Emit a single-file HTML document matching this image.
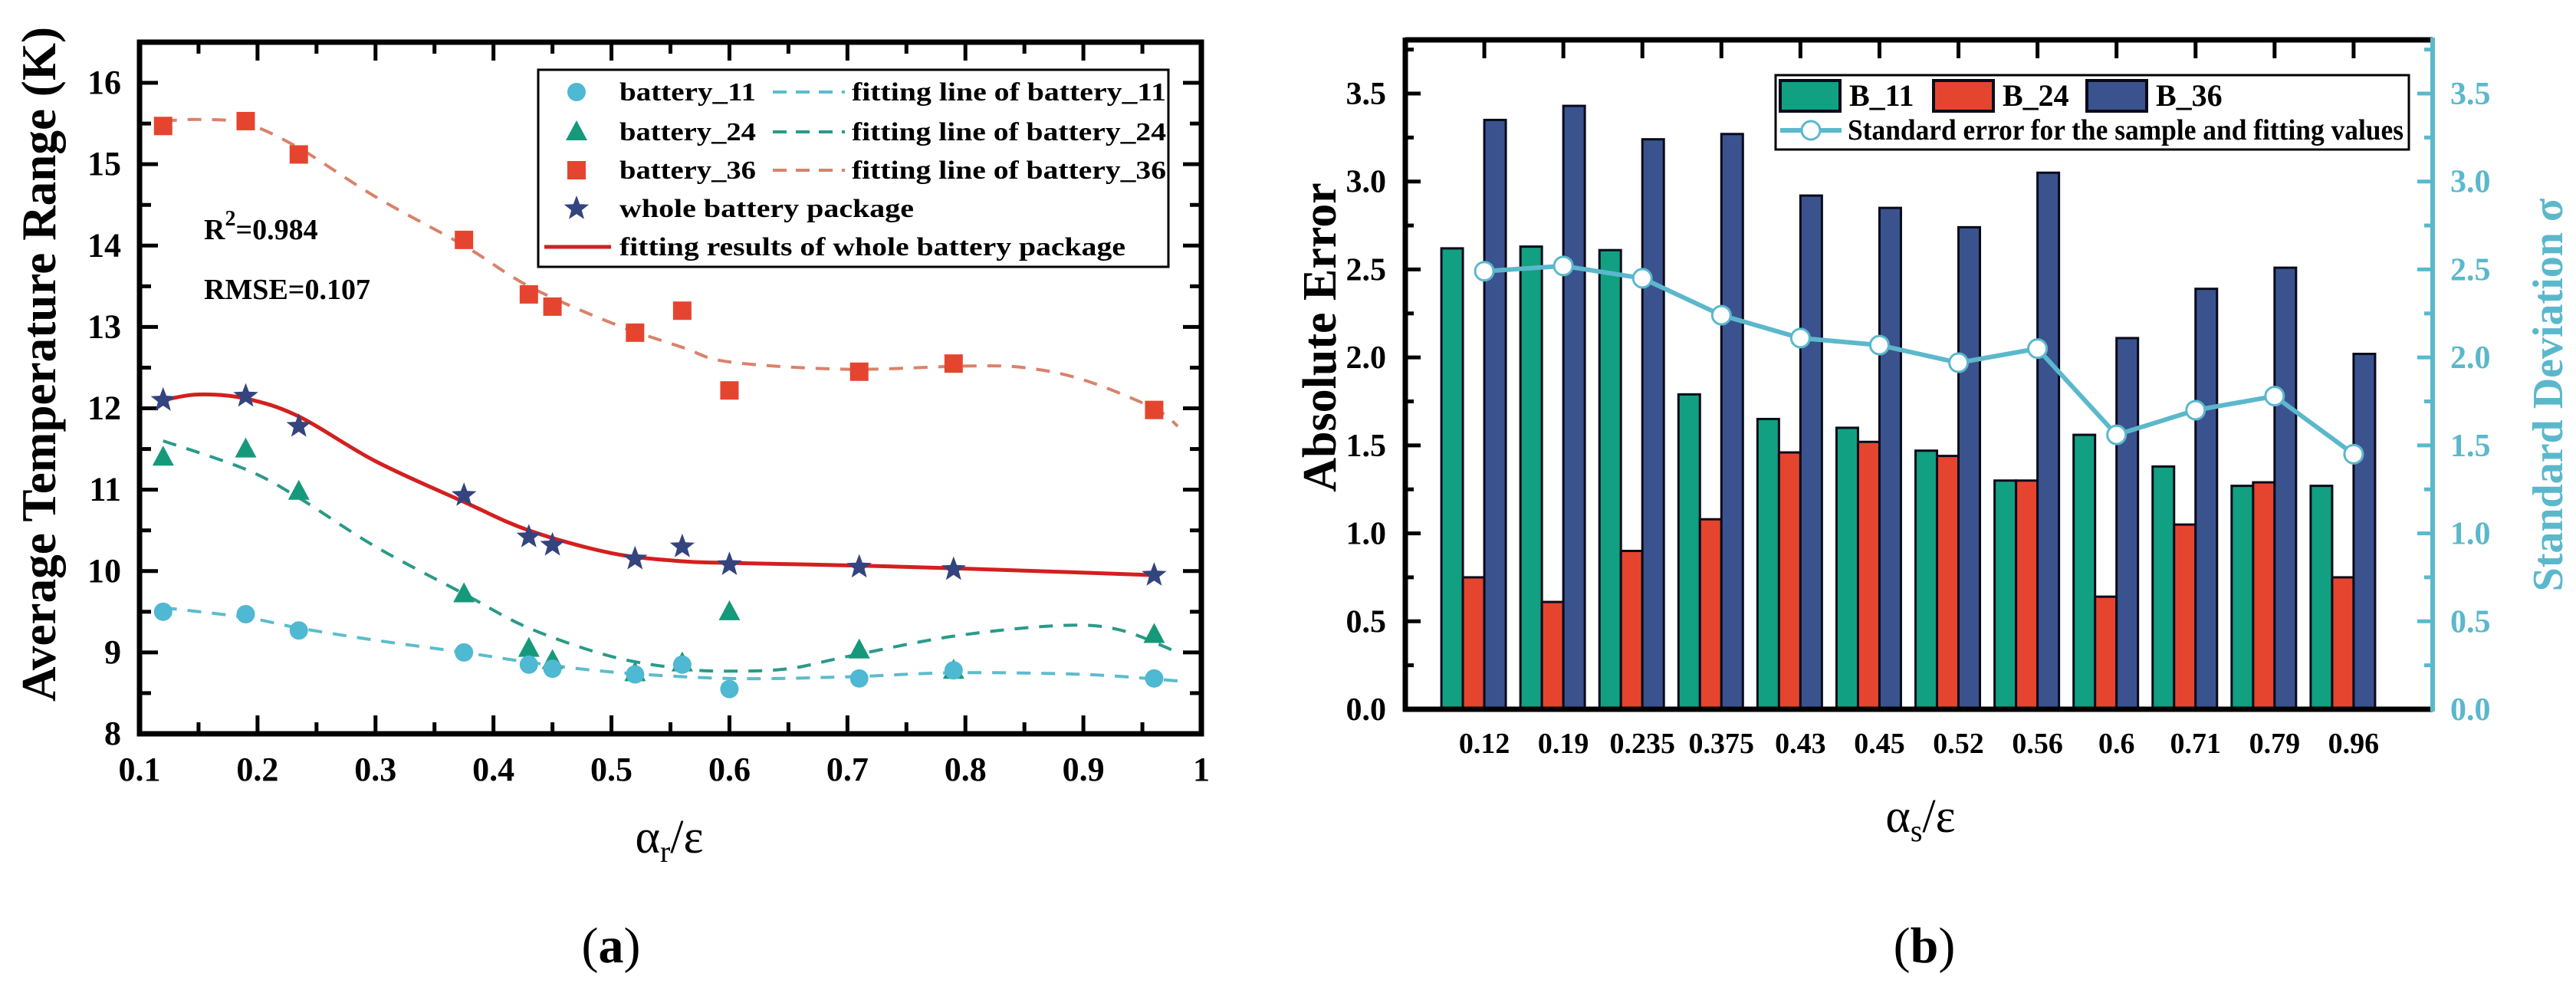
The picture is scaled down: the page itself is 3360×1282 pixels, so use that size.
<!DOCTYPE html>
<html><head><meta charset="utf-8"><style>
html,body{margin:0;padding:0;background:#fff;}
svg{display:block;font-family:"Liberation Serif",serif;}
</style></head><body>
<svg id="fig" width="3360" height="1282" viewBox="0 0 3360 1282" xmlns="http://www.w3.org/2000/svg">
<g id="pa"></g>
<g id="pb"></g>
</svg>
<script>
// ---------- Panel (a) data ----------
const xVals = [0.12,0.19,0.235,0.375,0.43,0.45,0.52,0.56,0.6,0.71,0.79,0.96];
const b11 = [9.5,9.47,9.27,9.0,8.85,8.8,8.73,8.85,8.55,8.68,8.78,8.68];
const b24 = [11.4,11.5,10.98,9.72,9.05,8.9,8.75,8.87,9.5,9.03,8.78,9.22];
const b36 = [15.47,15.53,15.12,14.07,13.4,13.25,12.93,13.2,12.22,12.45,12.55,11.98];
const whole = [12.1,12.15,11.78,10.93,10.42,10.32,10.15,10.3,10.08,10.05,10.02,9.95];
const fit11X = [0.12,0.19,0.235,0.3,0.375,0.43,0.5,0.6,0.7,0.79,0.9,0.98];
const fit11Y = [9.55,9.43,9.3,9.15,9.0,8.88,8.76,8.68,8.7,8.75,8.73,8.65];
const fit24X = [0.12,0.19,0.235,0.3,0.375,0.43,0.5,0.56,0.6,0.65,0.7,0.79,0.88,0.93,0.98];
const fit24Y = [11.6,11.25,10.9,10.3,9.72,9.3,8.95,8.8,8.77,8.8,8.95,9.2,9.33,9.28,9.0];
const fit36X = [0.12,0.15,0.19,0.235,0.3,0.375,0.43,0.5,0.56,0.6,0.7,0.8,0.85,0.9,0.96,0.98];
const fit36Y = [15.53,15.55,15.5,15.2,14.6,14.0,13.5,13.05,12.75,12.57,12.48,12.52,12.5,12.35,12.0,11.78];
const fitWX = [0.12,0.15,0.19,0.235,0.3,0.375,0.43,0.5,0.56,0.6,0.7,0.8,0.96];
const fitWY = [12.1,12.17,12.12,11.9,11.35,10.85,10.5,10.22,10.12,10.1,10.07,10.03,9.95];
const aXTicks = ["0.1","0.2","0.3","0.4","0.5","0.6","0.7","0.8","0.9","1"];
const aYTicks = ["8","9","10","11","12","13","14","15","16"];
// ---------- Panel (b) data ----------
const cats = ["0.12","0.19","0.235","0.375","0.43","0.45","0.52","0.56","0.6","0.71","0.79","0.96"];
const bar11 = [2.62,2.63,2.61,1.79,1.65,1.6,1.47,1.3,1.56,1.38,1.27,1.27];
const bar24 = [0.75,0.61,0.9,1.08,1.46,1.52,1.44,1.3,0.64,1.05,1.29,0.75];
const bar36 = [3.35,3.43,3.24,3.27,2.92,2.85,2.74,3.05,2.11,2.39,2.51,2.02];
const sigma = [2.49,2.52,2.45,2.24,2.11,2.07,1.97,2.05,1.56,1.7,1.78,1.45];
const bYTicks = ["0.0","0.5","1.0","1.5","2.0","2.5","3.0","3.5"];

const NS="http://www.w3.org/2000/svg";
function mk(parent,tag,attrs,text){const e=document.createElementNS(NS,tag);for(const k in attrs)e.setAttribute(k,attrs[k]);if(text!==undefined)e.textContent=text;parent.appendChild(e);return e;}
function smooth(pts){let d="M"+pts[0][0]+","+pts[0][1];for(let i=0;i<pts.length-1;i++){const p0=pts[i-1]||pts[i],p1=pts[i],p2=pts[i+1],p3=pts[i+2]||p2;const c1=[p1[0]+(p2[0]-p0[0])/6,p1[1]+(p2[1]-p0[1])/6],c2=[p2[0]-(p3[0]-p1[0])/6,p2[1]-(p3[1]-p1[1])/6];d+=" C"+c1+" "+c2+" "+p2;}return d;}
function star(cx,cy,R){const r=R*0.42;let s="";for(let i=0;i<10;i++){const a=-Math.PI/2+i*Math.PI/5,rr=i%2?r:R;s+=(cx+rr*Math.cos(a)).toFixed(1)+","+(cy+rr*Math.sin(a)).toFixed(1)+" ";}return s;}

// ===== Panel A =====
const A=document.getElementById('pa');
const aL=182,aR=1567,aT=55,aB=957;
const ax=v=>aL+(v-0.1)/0.9*(aR-aL);
const ay=v=>aB-(v-8)/8.5*(aB-aT);
let e;
for(let v=0.1;v<=1.0001;v+=0.05){const X=ax(v);const maj=Math.abs(Math.round(v*10)-v*10)<1e-6;const L=maj?24:15;
 e=mk(A,'line',{x1:X,y1:aB,x2:X,y2:aB-L,stroke:'#000','stroke-width':5});
 
 
 e=mk(A,'line',{x1:X,y1:aT,x2:X,y2:aT+L,stroke:'#000','stroke-width':5});
 
 }
aXTicks.forEach((t,i)=>{e=mk(A,'text',{x:ax(0.1+i*0.1),y:1018,'text-anchor':'middle','font-size':44,'font-weight':'bold'},t);
 
 });
for(let v=8;v<=16.5001;v+=0.5){const Y=ay(v);const maj=Math.abs(v-Math.round(v))<1e-6;const L=maj?24:15;
 e=mk(A,'line',{x1:aL,y1:Y,x2:aL+L,y2:Y,stroke:'#000','stroke-width':5});
 
 
 e=mk(A,'line',{x1:aR,y1:Y,x2:aR-L,y2:Y,stroke:'#000','stroke-width':5});
 
 }
aYTicks.forEach((t,i)=>{e=mk(A,'text',{x:158,y:ay(8+i)+14,'text-anchor':'end','font-size':44,'font-weight':'bold'},t);
 
 });
e=mk(A,'rect',{x:aL,y:aT,width:aR-aL,height:aB-aT,fill:'none',stroke:'#000','stroke-width':7});


function fitLine(X,Y,color,dash,w,name){const p=X.map((x,i)=>[ax(x),ay(Y[i])]);const el=mk(A,'path',{d:smooth(p),fill:'none',stroke:color,'stroke-width':w,'stroke-dasharray':dash});}
fitLine(fit36X,fit36Y,'#d9826a','18 14',4,'fit-line-battery-36');
fitLine(fit24X,fit24Y,'#2a9a88','18 14',4,'fit-line-battery-24');
fitLine(fit11X,fit11Y,'#5cbccc','18 14',4,'fit-line-battery-11');
xVals.forEach((x,i)=>{
 e=mk(A,'rect',{x:ax(x)-12,y:ay(b36[i])-12,width:24,height:24,fill:'#e5452f'});
 
 
 const cx=ax(x),cy=ay(b24[i]);
 e=mk(A,'polygon',{points:`${cx},${cy-15} ${cx-14},${cy+11} ${cx+14},${cy+11}`,fill:'#16997a'});
 
 
 e=mk(A,'circle',{cx:ax(x),cy:ay(b11[i]),r:12,fill:'#4fb8d2'});
 
 
});
fitLine(fitWX,fitWY,'#d41f1f','none',5,'fit-line-whole-package');
xVals.forEach((x,i)=>{e=mk(A,'polygon',{points:star(ax(x),ay(whole[i]),17),fill:'#34447e'});
 
 });
e=mk(A,'text',{x:266,y:312,'font-size':38,'font-weight':'bold'});
e.innerHTML='R<tspan dy="-18" font-size="28">2</tspan><tspan dy="18">=0.984</tspan>';


e=mk(A,'text',{x:266,y:390,'font-size':38,'font-weight':'bold'},'RMSE=0.107');


const lg=mk(A,'g',{});


e=mk(lg,'rect',{x:702,y:91,width:822,height:257,fill:'#fff',stroke:'#000','stroke-width':3});


const rows=[120,172,222,272,322];
const ltxt=['battery_11','battery_24','battery_36'];
const lfit=['fitting line of battery_11','fitting line of battery_24','fitting line of battery_36'];
const lcol=['#5cbccc','#2a9a88','#d9826a'];
e=mk(lg,'circle',{cx:752,cy:rows[0],r:12,fill:'#4fb8d2'});
e=mk(lg,'polygon',{points:`752,${rows[1]-15} 738,${rows[1]+11} 766,${rows[1]+11}`,fill:'#16997a'});
e=mk(lg,'rect',{x:740,y:rows[2]-12,width:24,height:24,fill:'#e5452f'});
e=mk(lg,'polygon',{points:star(752,rows[3],17),fill:'#34447e'});
e=mk(lg,'line',{x1:710,y1:rows[4],x2:797,y2:rows[4],stroke:'#d41f1f','stroke-width':5});
for(let i=0;i<3;i++){
 e=mk(lg,'text',{x:808,y:rows[i]+11,'font-size':34,'font-weight':'bold',textLength:178,lengthAdjust:'spacingAndGlyphs'},ltxt[i]);
 
 
 e=mk(lg,'line',{x1:1008,y1:rows[i],x2:1102,y2:rows[i],stroke:lcol[i],'stroke-width':4,'stroke-dasharray':'18 12'});
 
 
 e=mk(lg,'text',{x:1111,y:rows[i]+11,'font-size':34,'font-weight':'bold',textLength:410,lengthAdjust:'spacingAndGlyphs'},lfit[i]);
 
 
}
e=mk(lg,'text',{x:808,y:rows[3]+11,'font-size':34,'font-weight':'bold',textLength:384,lengthAdjust:'spacingAndGlyphs'},'whole battery package');

e=mk(lg,'text',{x:808,y:rows[4]+11,'font-size':34,'font-weight':'bold',textLength:660,lengthAdjust:'spacingAndGlyphs'},'fitting results of whole battery package');

e=mk(A,'text',{x:0,y:0,transform:'translate(72,475) rotate(-90)','text-anchor':'middle','font-size':64,'font-weight':'bold',textLength:880,lengthAdjust:'spacingAndGlyphs'},'Average Temperature Range (K)');

e=mk(A,'text',{x:873,y:1112,'text-anchor':'middle','font-size':62});
e.innerHTML='α<tspan dy="12" font-size="40">r</tspan><tspan dy="-12">/ε</tspan>';

e=mk(A,'text',{x:797,y:1255,'text-anchor':'middle','font-size':66});
e.innerHTML='(<tspan font-weight="bold">a</tspan>)';


// ===== Panel B =====
const B=document.getElementById('pb');
const bL=1833,bR=3173,bT=52,bB=925;
const step=(bR-bL)/13;
const bx=i=>bL+(i+1)*step;
const by=v=>bB-v/3.5*(bB-122);
const bw=28;
const series=[[bar11,'#11a081','bar-b11',-42],[bar24,'#e5452f','bar-b24',-14],[bar36,'#3a538f','bar-b36',14]];
cats.forEach((c,i)=>{series.forEach(s=>{const v=s[0][i];
 e=mk(B,'rect',{x:bx(i)+s[3]-bw/2,y:by(v),width:bw,height:bB-by(v),fill:s[1],stroke:'#0a0a1a','stroke-width':3});
 
 });});
for(let v=0;v<=3.75001;v+=0.25){const Y=by(v);const maj=Math.abs(v*2-Math.round(v*2))<1e-6;const L=maj?20:11;
 e=mk(B,'line',{x1:bL,y1:Y,x2:bL+L,y2:Y,stroke:'#000','stroke-width':5});
 
 e=mk(B,'line',{x1:bR,y1:Y,x2:bR-L,y2:Y,stroke:'#5bb8cc','stroke-width':5});
 }
bYTicks.forEach((t,i)=>{const Y=by(i*0.5);
 e=mk(B,'text',{x:1808,y:Y+14,'text-anchor':'end','font-size':42,'font-weight':'bold'},t);
 
 e=mk(B,'text',{x:3196,y:Y+14,'font-size':42,'font-weight':'bold',fill:'#5bb8cc'},t);
 });
cats.forEach((c,i)=>{
 e=mk(B,'line',{x1:bx(i),y1:bT,x2:bx(i),y2:bT+24,stroke:'#000','stroke-width':5});
 
 e=mk(B,'text',{x:bx(i),y:982,'text-anchor':'middle','font-size':38,'font-weight':'bold'},c);
 });
e=mk(B,'line',{x1:bL,y1:bT,x2:bR,y2:bT,stroke:'#000','stroke-width':7});
e=mk(B,'line',{x1:bL,y1:bT-3,x2:bL,y2:bB+3,stroke:'#000','stroke-width':7});
e=mk(B,'line',{x1:bL-3,y1:bB,x2:bR,y2:bB,stroke:'#000','stroke-width':7});
e=mk(B,'line',{x1:bR,y1:bT-3,x2:bR,y2:bB+3,stroke:'#5bb8cc','stroke-width':6});
const sp=sigma.map((v,i)=>bx(i)+','+by(v)).join(' ');
e=mk(B,'polyline',{points:sp,fill:'none',stroke:'#5bb8cc','stroke-width':6});

sigma.forEach((v,i)=>{e=mk(B,'circle',{cx:bx(i),cy:by(v),r:12,fill:'#fff',stroke:'#5bb8cc','stroke-width':3});
 });
const lb=mk(B,'g',{});


e=mk(lb,'rect',{x:2316,y:98,width:826,height:97,fill:'#fff',stroke:'#000','stroke-width':3});

[[2322,'#11a081','B_11'],[2522,'#e5452f','B_24'],[2722,'#3a538f','B_36']].forEach(s=>{
 e=mk(lb,'rect',{x:s[0],y:105,width:78,height:40,fill:s[1],stroke:'#0a0a1a','stroke-width':4});
 
 e=mk(lb,'text',{x:s[0]+90,y:138,'font-size':40,'font-weight':'bold'},s[2]);
 });
e=mk(lb,'line',{x1:2322,y1:170,x2:2402,y2:170,stroke:'#5bb8cc','stroke-width':6});
e=mk(lb,'circle',{cx:2362,cy:170,r:12,fill:'#fff',stroke:'#5bb8cc','stroke-width':3});
e=mk(lb,'text',{x:2410,y:182,'font-size':38,'font-weight':'bold',textLength:725,lengthAdjust:'spacingAndGlyphs'},'Standard error for the sample and fitting values');

e=mk(B,'text',{x:0,y:0,transform:'translate(1742,440) rotate(-90)','text-anchor':'middle','font-size':62,'font-weight':'bold'},'Absolute Error');

e=mk(B,'text',{x:0,y:0,transform:'translate(3342,515) rotate(-90)','text-anchor':'middle','font-size':56,'font-weight':'bold',fill:'#5bb8cc'},'Standard Deviation σ');

e=mk(B,'text',{x:2505,y:1085,'text-anchor':'middle','font-size':62});
e.innerHTML='α<tspan dy="12" font-size="40">s</tspan><tspan dy="-12">/ε</tspan>';

e=mk(B,'text',{x:2510,y:1255,'text-anchor':'middle','font-size':66});
e.innerHTML='(<tspan font-weight="bold">b</tspan>)';

</script>
</body></html>
